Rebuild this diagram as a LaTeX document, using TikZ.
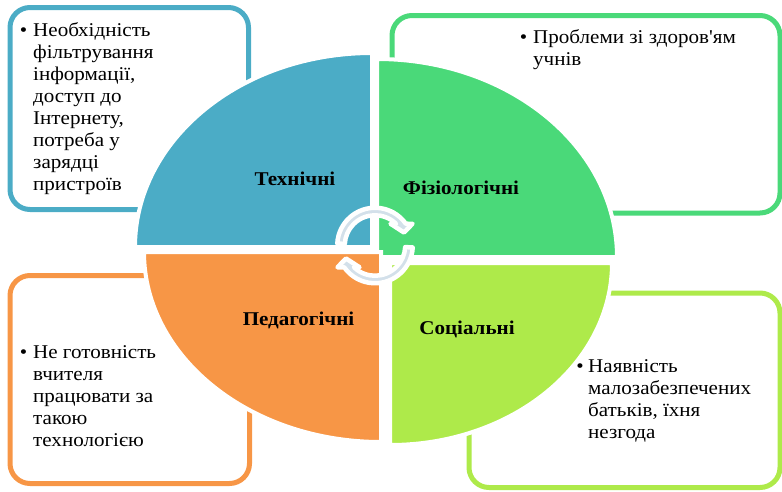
\documentclass[tikz,border=0pt]{standalone}
\usepackage{fontspec}
\setmainfont{Liberation Serif}
\newfontfamily\diagfont{Liberation Serif}[FakeStretch=1.08]
\definecolor{cBlue}{HTML}{4BACC6}
\definecolor{cGreen}{HTML}{4AD979}
\definecolor{cOrange}{HTML}{F79646}
\definecolor{cLime}{HTML}{AEEA4A}
\definecolor{cArrow}{HTML}{D3E0EA}
\tikzset{
  infobox/.style={line width=5pt, rounded corners=20pt},
  sector/.style={draw=white, line width=4pt},
  bodytext/.style={font=\diagfont\fontsize{19.5}{22}\selectfont, align=left, inner sep=0pt, anchor=north west},
  bulletmark/.style={font=\diagfont\fontsize{19.5}{22}\selectfont, inner sep=0pt, anchor=base},
  sectorlabel/.style={font=\diagfont\fontsize{19.5}{22}\selectfont\bfseries, inner sep=0pt, anchor=base},
  cyclearrow/.style={fill=cArrow, draw=white, line width=4.5pt, line join=round}
}
\begin{document}
\begin{tikzpicture}[x=1pt,y=-1pt]
\useasboundingbox (0,0) rectangle (782,491);
% boxes
\draw[infobox, cBlue]   (10,7.5)   rectangle (248.5,209.5);
\draw[infobox, cGreen]  (392,15.5) rectangle (780,213);
\draw[infobox, cOrange] (10,275.5) rectangle (249.5,483.5);
\draw[infobox, cLime]   (469,293)  rectangle (780,487.5);
% sectors
\path[sector, fill=cBlue]   (372,247) -- (135,247) arc[start angle=180, end angle=270, x radius=237, y radius=194] -- cycle;
\path[sector, fill=cGreen]  (377,257) -- (377,59)  arc[start angle=270, end angle=360, x radius=240, y radius=198] -- cycle;
\path[sector, fill=cOrange] (381,252) -- (381,442) arc[start angle=90, end angle=180, x radius=237, y radius=190] -- cycle;
\path[sector, fill=cLime]   (390,263) -- (612,263) arc[start angle=0, end angle=90, x radius=222, y radius=182] -- cycle;
% box texts
\node (b1) [bulletmark] at (23.5,36) {•};
\node (t1) [bodytext] at (33,20) {\rule{0pt}{16pt}Необхідність\\фільтрування\\інформації,\\доступ до\\Інтернету,\\потреба у\\зарядці\\пристроїв};
\node (b2) [bulletmark] at (523.5,43) {•};
\node (t2) [bodytext] at (533,27) {\rule{0pt}{16pt}Проблеми зі здоров{\char"0027}ям\\учнів};
\node (b3) [bulletmark] at (23.5,358) {•};
\node (t3) [bodytext] at (33,342) {\rule{0pt}{16pt}Не готовність\\вчителя\\працювати за\\такою\\технологією};
\node (b4) [bulletmark] at (580,372) {•};
\node (t4) [bodytext] at (588,356) {\rule{0pt}{16pt}Наявність\\малозабезпечених\\батьків, їхня\\незгода};
% sector labels
\node (l1) [sectorlabel] at (295,185) {Технічні};
\node (l2) [sectorlabel] at (461,194) {Фізіологічні};
\node (l3) [sectorlabel] at (298.5,325) {Педагогічні};
\node (l4) [sectorlabel] at (467,334) {Соціальні};
% circular arrows
\begin{scope}[shift={(375,245.5)}]
  \path[cyclearrow] (183:37.75) arc[start angle=183, end angle=324.8, radius=37.75]
    -- (37.5,-21.75) -- (29,-13) -- (15.5,-21.75) -- (314:30.25)
    arc[start angle=314, end angle=183, radius=30.25] -- cycle;
\end{scope}
\begin{scope}[shift={(375,245.5)}, rotate=180]
  \path[cyclearrow] (183:37.75) arc[start angle=183, end angle=324.8, radius=37.75]
    -- (37.5,-21.75) -- (29,-13) -- (15.5,-21.75) -- (314:30.25)
    arc[start angle=314, end angle=183, radius=30.25] -- cycle;
\end{scope}
\end{tikzpicture}
\end{document}
